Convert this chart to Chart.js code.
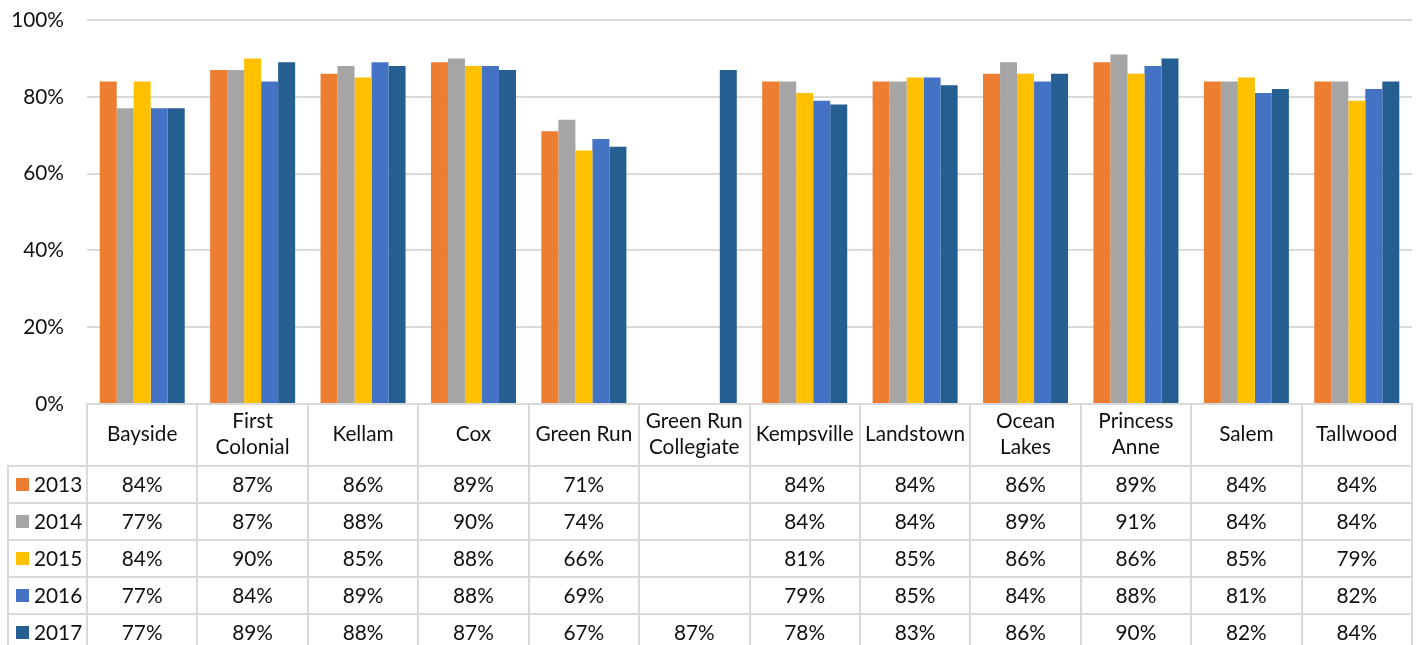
<!DOCTYPE html>
<html>
<head>
<meta charset="utf-8">
<script src="https://cdn.jsdelivr.net/npm/chart.js@4"></script>
<style>
  html, body { margin: 0; padding: 0; background: #fff; }
  #wrap { position: relative; width: 1417px; height: 645px; overflow: hidden; font-family: Lato, "Open Sans", sans-serif; }
  #c { position: absolute; left: 0; top: 0; }
  #tbl { position: absolute; left: 0; top: 0; width: 1417px; height: 645px; pointer-events: none; }
  .ln { position: absolute; background: #d9d9d9; }
  .tx { position: absolute; text-align: center; color: #111; font-size: 20.8px; line-height: 26px; white-space: nowrap; }
  .sw { position: absolute; width: 13px; height: 13px; }
</style>
</head>
<body>
<div id="wrap">
  <canvas id="c" width="1417" height="645"></canvas>
  <div id="tbl"></div>
</div>
<script>
const categories = ["Bayside", ["First", "Colonial"], "Kellam", "Cox", "Green Run", ["Green Run", "Collegiate"], "Kempsville", "Landstown", ["Ocean", "Lakes"], ["Princess", "Anne"], "Salem", "Tallwood"];
const seriesNames = ["2013", "2014", "2015", "2016", "2017"];
const v2013 = [84, 87, 86, 89, 71, null, 84, 84, 86, 89, 84, 84];
const v2014 = [77, 87, 88, 90, 74, null, 84, 84, 89, 91, 84, 84];
const v2015 = [84, 90, 85, 88, 66, null, 81, 85, 86, 86, 85, 79];
const v2016 = [77, 84, 89, 88, 69, null, 79, 85, 84, 88, 81, 82];
const v2017 = [77, 89, 88, 87, 67, 87, 78, 83, 86, 90, 82, 84];
const yTicks = [0, 20, 40, 60, 80, 100];
const colors = ["#ED7D31", "#A5A5A5", "#FFC000", "#4472C4", "#255E91"];
const seriesValues = [v2013, v2014, v2015, v2016, v2017];

const FONT = 'Lato, "Open Sans", sans-serif';

const tablePlugin = {
  id: 'dataTable',
  afterRender(chart) {
    if (chart._tableBuilt) return;
    chart._tableBuilt = true;
    const host = document.getElementById('tbl');
    host.innerHTML = '';
    const xs = chart.scales.x;
    const area = chart.chartArea;
    const n = categories.length;
    const colW = (area.right - area.left) / n;
    const headTop = area.bottom;
    const headH = 62;
    const rowH = 37;
    const legLeft = 8;
    const lw = 2;
    function line(x, y, w, h) {
      const d = document.createElement('div');
      d.className = 'ln';
      d.style.left = x + 'px'; d.style.top = y + 'px';
      d.style.width = w + 'px'; d.style.height = h + 'px';
      host.appendChild(d);
    }
    function text(str, cx, cy, w, align) {
      const d = document.createElement('div');
      d.className = 'tx';
      const lines = Array.isArray(str) ? str : [str];
      d.innerHTML = lines.map(s => s.replace(/&/g, '&amp;').replace(/</g, '&lt;')).join('<br>');
      const h = lines.length * 26;
      d.style.width = w + 'px';
      d.style.left = (cx - w / 2) + 'px';
      d.style.top = (cy - h / 2) + 'px';
      if (align) d.style.textAlign = align;
      host.appendChild(d);
    }
    const bottom = headTop + headH + rowH * seriesNames.length + 10;
    line(area.left - lw / 2, headTop - lw / 2, area.right - area.left + lw, lw);
    for (let r = 0; r <= seriesNames.length; r++) {
      const y = headTop + headH + r * rowH;
      line(legLeft - lw / 2, y - lw / 2, area.right - legLeft + lw, lw);
    }
    for (let i = 0; i <= n; i++) {
      const x = xs.getPixelForValue(Math.min(i, n - 1)) + (i === n ? colW / 2 : -colW / 2);
      line(x - lw / 2, headTop - lw / 2, lw, bottom - headTop);
    }
    line(legLeft - lw / 2, headTop + headH - lw / 2, lw, bottom - headTop - headH);
    categories.forEach((c, i) => {
      const cx = xs.getPixelForValue(i);
      text(c, cx, headTop + headH / 2 - 2, colW, 'center');
    });
    seriesNames.forEach((name, r) => {
      const cy = headTop + headH + r * rowH + rowH / 2 - 1;
      const sw = document.createElement('div');
      sw.className = 'sw';
      sw.style.background = colors[r];
      sw.style.left = (legLeft + 8) + 'px';
      sw.style.top = (cy - 6) + 'px';
      host.appendChild(sw);
      const t = document.createElement('div');
      t.className = 'tx';
      t.textContent = name;
      t.style.left = (legLeft + 26) + 'px';
      t.style.top = (cy - 13) + 'px';
      t.style.textAlign = 'left';
      host.appendChild(t);
      seriesValues[r].forEach((v, i) => {
        if (v === null) return;
        text(v + '%', xs.getPixelForValue(i), cy, colW, 'center');
      });
    });
  }
};

new Chart(document.getElementById('c'), {
  type: 'bar',
  data: {
    labels: categories,
    datasets: seriesNames.map((name, k) => ({
      label: name,
      data: seriesValues[k],
      backgroundColor: colors[k],
      borderWidth: 0,
      categoryPercentage: 0.77,
      barPercentage: 1.0
    }))
  },
  options: {
    responsive: false,
    animation: false,
    devicePixelRatio: 1,
    layout: { padding: { left: 0, right: 5, top: 20, bottom: 241 } },
    plugins: { legend: { display: false }, tooltip: { enabled: false } },
    scales: {
      x: { display: false, grid: { display: false } },
      y: {
        min: 0, max: 100,
        afterFit(scale) { scale.width = 87; scale.paddingTop = 0; scale.paddingBottom = 0; },
        afterBuildTicks(scale) { scale.ticks = yTicks.map(v => ({ value: v })); },
        border: { display: false },
        grid: { color: '#d9d9d9', lineWidth: 2, drawTicks: false },
        ticks: {
          padding: 23,
          color: '#111',
          font: { family: FONT, size: 20.8 },
          callback: v => v + '%'
        }
      }
    }
  },
  plugins: [tablePlugin]
});
</script>
</body>
</html>
